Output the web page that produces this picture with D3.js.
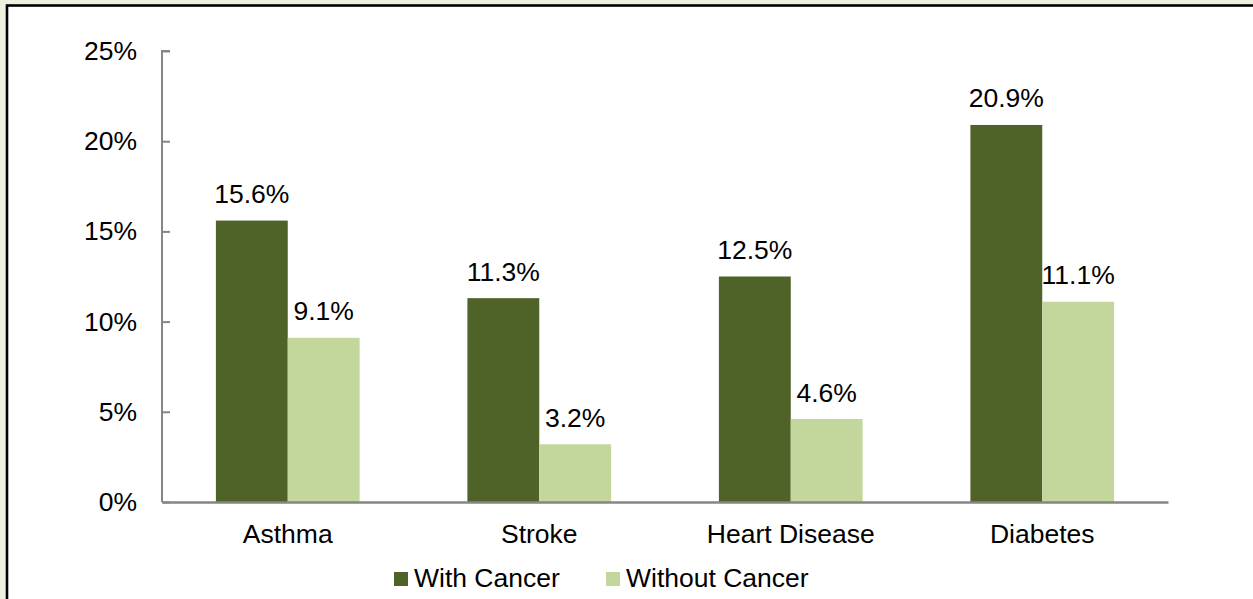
<!DOCTYPE html>
<html>
<head>
<meta charset="utf-8">
<script src="https://cdn.jsdelivr.net/npm/d3@7"></script>
<style>
html, body { margin: 0; padding: 0; background: #EBF1DE; overflow: hidden; }
svg { display: block; }
text { font-family: "Liberation Sans", Arial, sans-serif; fill: #000; }
</style>
</head>
<body>
<svg id="chart" width="1253" height="599"></svg>
<script>
const categories = ["Asthma", "Stroke", "Heart Disease", "Diabetes"];
const seriesNames = ["With Cancer", "Without Cancer"];
const withCancer = [15.6, 11.3, 12.5, 20.9];
const withoutCancer = [9.1, 3.2, 4.6, 11.1];
const yTicks = [0, 5, 10, 15, 20, 25];
const colors = ["#4F6228", "#C3D69B"];

const svg = d3.select("#chart");
const W = 1253, H = 599;
const fontSize = 26.5;

// chart box with black border
svg.append("rect").attr("x", 7).attr("y", 5.5).attr("width", W + 20).attr("height", H + 20)
  .attr("fill", "#fff").attr("stroke", "#000").attr("stroke-width", 2.6);

const x0 = 162, x1 = 1168, yTop = 51, yBottom = 502;
const x = d3.scaleBand().domain(categories).range([x0, x1]).paddingInner(0).paddingOuter(0);
const y = d3.scaleLinear().domain([0, 25]).range([yBottom, yTop]);
const barW = x.bandwidth() / 3.5;
const xs = d3.scaleBand().domain(seriesNames).range([0, barW * 2]);

const data = categories.map((c, i) => ({ cat: c, vals: [withCancer[i], withoutCancer[i]] }));

// bars
const groups = svg.append("g").selectAll("g").data(data).join("g")
  .attr("transform", d => `translate(${x(d.cat) + x.bandwidth() / 2 - barW},0)`);

groups.selectAll("rect").data(d => d.vals.map((v, j) => ({ v, s: seriesNames[j], j })))
  .join("rect")
  .attr("x", d => xs(d.s))
  .attr("width", xs.bandwidth())
  .attr("y", d => y(d.v))
  .attr("height", d => y(0) - y(d.v))
  .attr("fill", d => colors[d.j]);

groups.selectAll("text.val").data(d => d.vals.map((v, j) => ({ v, s: seriesNames[j], j })))
  .join("text").attr("class", "val")
  .attr("x", d => xs(d.s) + xs.bandwidth() / 2)
  .attr("y", d => y(d.v) - 17.5)
  .attr("text-anchor", "middle")
  .style("font-size", fontSize + "px")
  .text(d => d.v.toFixed(1) + "%");

// y axis
const yAxis = d3.axisRight(y).tickValues(yTicks).tickSize(8).tickFormat("");
const ya = svg.append("g").attr("transform", `translate(${x0},0)`).call(yAxis);
ya.selectAll("path,line").attr("stroke", "#868686").attr("stroke-width", 2);
ya.select("path").attr("d", `M8,${yTop}H0V${yBottom}`);

svg.append("g").selectAll("text").data(yTicks).join("text")
  .attr("x", 137).attr("y", d => y(d) + 9)
  .attr("text-anchor", "end")
  .style("font-size", fontSize + "px")
  .text(d => d + "%");

// x axis
const xAxis = d3.axisBottom(x).tickSize(0).tickFormat("");
const xa = svg.append("g").attr("transform", `translate(0,${yBottom})`).call(xAxis);
xa.select("path").attr("stroke", "#868686").attr("stroke-width", 2.5);

svg.append("g").selectAll("text").data(categories).join("text")
  .attr("x", d => x(d) + x.bandwidth() / 2).attr("y", 543)
  .attr("text-anchor", "middle")
  .style("font-size", fontSize + "px")
  .text(d => d);

// legend
const legendX = [394, 606];
const leg = svg.append("g").selectAll("g").data(seriesNames).join("g")
  .attr("transform", (d, i) => `translate(${legendX[i]},0)`);
leg.append("rect").attr("x", 0).attr("y", 572).attr("width", 14).attr("height", 14)
  .attr("fill", (d, i) => colors[i]);
leg.append("text").attr("x", 20).attr("y", 587)
  .style("font-size", fontSize + "px")
  .text(d => d);
</script>
</body>
</html>
